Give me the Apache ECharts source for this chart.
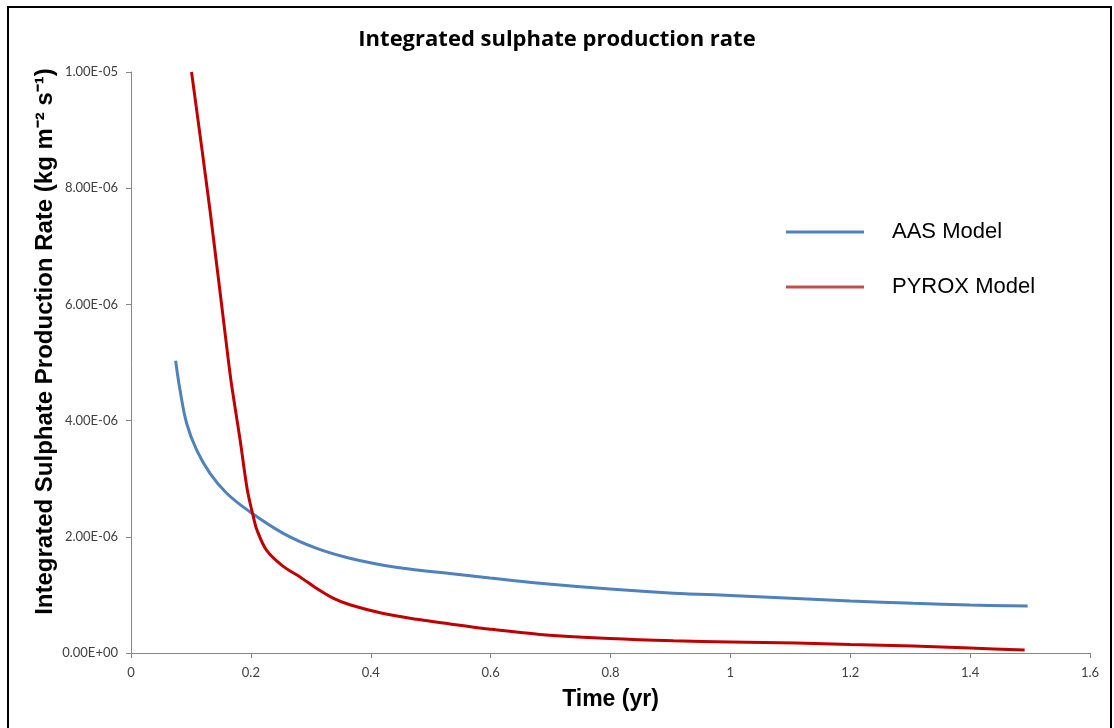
<!DOCTYPE html>
<html>
<head>
<meta charset="utf-8">
<title>Integrated sulphate production rate</title>
<script src="https://cdn.jsdelivr.net/npm/echarts@6/dist/echarts.min.js"></script>
<style>
  html, body { margin: 0; padding: 0; background: #fff; }
  #chart { width: 1114px; height: 728px; }
</style>
</head>
<body>
<div id="chart"></div>
<script>
// AAS 模型 (time in yr, rate in kg m-2 s-1)
var aasTime = [0.0745, 0.0817, 0.0929, 0.1096, 0.1318, 0.1596, 0.1985, 0.254, 0.310, 0.365, 0.421, 0.477, 0.532, 0.599, 0.682, 0.799, 0.905, 1.0, 1.11, 1.2, 1.305, 1.4, 1.496];
var aasRate = [5.03e-6, 4.53e-6, 3.95e-6, 3.49e-6, 3.09e-6, 2.75e-6, 2.43e-6, 2.06e-6, 1.80e-6, 1.63e-6, 1.51e-6, 1.43e-6, 1.37e-6, 1.29e-6, 1.20e-6, 1.10e-6, 1.03e-6, 0.99e-6, 0.94e-6, 0.895e-6, 0.855e-6, 0.826e-6, 0.81e-6];
// PYROX 模型
var pyroxTime = [0.101, 0.1318, 0.1624, 0.168, 0.182, 0.194, 0.204, 0.21, 0.226, 0.254, 0.282, 0.31, 0.338, 0.365, 0.421, 0.477, 0.532, 0.599, 0.682, 0.799, 0.905, 1.0, 1.11, 1.2, 1.305, 1.4, 1.491];
var pyroxRate = [10.0e-6, 7.62e-6, 5.04e-6, 4.6e-6, 3.67e-6, 2.81e-6, 2.35e-6, 2.12e-6, 1.77e-6, 1.49e-6, 1.31e-6, 1.11e-6, 0.94e-6, 0.83e-6, 0.68e-6, 0.58e-6, 0.50e-6, 0.41e-6, 0.32e-6, 0.25e-6, 0.21e-6, 0.19e-6, 0.17e-6, 0.145e-6, 0.12e-6, 0.086e-6, 0.05e-6];
// 坐标轴刻度标签
var yTickLabels = ['0.00E+00', '2.00E-06', '4.00E-06', '6.00E-06', '8.00E-06', '1.00E-05'];
var xTickLabels = ['0', '0.2', '0.4', '0.6', '0.8', '1', '1.2', '1.4', '1.6'];

function pairs(xs, ys) {
  var out = [];
  for (var i = 0; i < xs.length; i++) {
    out.push([xs[i], ys[i]]);
  }
  return out;
}

var myChart = echarts.init(document.getElementById('chart'));
var option = {
  backgroundColor: '#fff',
  animation: false,
  title: {
    text: 'Integrated sulphate production rate',
    left: 'center',
    top: 24,
    textStyle: {
      fontFamily: 'Open Sans',
      fontWeight: 'bold',
      fontSize: 22,
      color: '#000'
    }
  },
  legend: {
    orient: 'vertical',
    left: 781,
    top: 216,
    icon: 'rect',
    itemWidth: 78,
    itemHeight: 3,
    itemGap: 33,
    textStyle: {
      fontFamily: 'Liberation Sans',
      fontSize: 22,
      color: '#000',
      padding: [0, 0, 0, 23]
    },
    data: ['AAS Model', 'PYROX Model']
  },
  grid: {
    left: 131,
    right: 24,
    top: 72,
    bottom: 75
  },
  xAxis: {
    type: 'value',
    min: 0,
    max: 1.6,
    interval: 0.2,
    name: 'Time (yr)',
    nameLocation: 'middle',
    nameGap: 35,
    nameTextStyle: {
      fontFamily: 'Liberation Sans',
      fontWeight: 'bold',
      fontSize: 23,
      color: '#000'
    },
    axisLine: { lineStyle: { color: '#868686', width: 1 } },
    axisTick: { show: true, inside: false, length: 5, lineStyle: { color: '#868686' } },
    axisLabel: {
      margin: 13,
      fontFamily: 'Lato',
      fontSize: 13,
      color: '#404040',
      formatter: function (v, idx) { return xTickLabels[idx]; }
    },
    splitLine: { show: false }
  },
  yAxis: {
    type: 'value',
    min: 0,
    max: 1e-5,
    interval: 2e-6,
    name: 'Integrated Sulphate Production Rate (kg m\u207B\u00B2 s\u207B\u00B9)',
    nameLocation: 'middle',
    nameGap: 74,
    nameMoveOverlap: false,
    nameTextStyle: {
      fontFamily: 'Liberation Sans',
      fontWeight: 'bold',
      fontSize: 24,
      color: '#000',
      padding: [0, 0, 0, 42]
    },
    axisLine: { show: true, lineStyle: { color: '#868686', width: 1 } },
    axisTick: { show: true, inside: false, length: 5, lineStyle: { color: '#868686' } },
    axisLabel: {
      margin: 13,
      fontFamily: 'Lato',
      fontSize: 13,
      color: '#404040',
      formatter: function (v, idx) { return yTickLabels[idx]; }
    },
    splitLine: { show: false }
  },
  graphic: [
    {
      type: 'rect',
      shape: { x: 8, y: 7, width: 1103, height: 740 },
      style: { fill: 'none', stroke: '#000', lineWidth: 2 },
      silent: true
    }
  ],
  series: [
    {
      name: 'AAS Model',
      type: 'line',
      data: pairs(aasTime, aasRate),
      showSymbol: false,
      smooth: 0.4,
      lineStyle: { color: '#4F81BD', width: 3 },
      itemStyle: { color: '#4F81BD' }
    },
    {
      name: 'PYROX Model',
      type: 'line',
      data: pairs(pyroxTime, pyroxRate),
      showSymbol: false,
      smooth: 0.3,
      lineStyle: { color: '#C00000', width: 3 },
      itemStyle: { color: '#C0504D' }
    }
  ]
};
myChart.setOption(option);
</script>
</body>
</html>
